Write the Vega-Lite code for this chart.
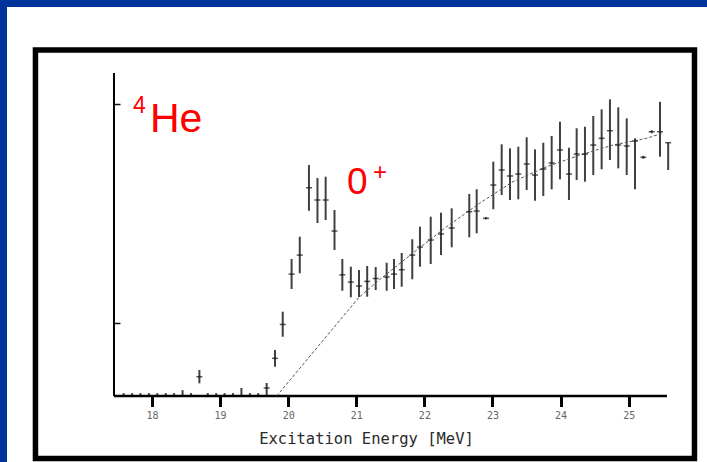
{
  "$schema": "https://vega.github.io/schema/vega-lite/v6.json",
  "width": 700,
  "height": 455,
  "autosize": {"type": "none"},
  "padding": {"left": 7, "top": 7, "right": 0, "bottom": 0},
  "background": "#003399",
  "config": {
    "view": {"fill": "white", "stroke": null},
    "axis": {"grid": false}
  },
  "resolve": {"axis": {"x": "independent", "y": "independent"}},
  "datasets": {
    "points": [
      {"e": 17.584, "lo": 0, "hi": 0.04},
      {"e": 17.708, "lo": 0, "hi": 0.04},
      {"e": 17.831, "lo": 0, "hi": 0.04},
      {"e": 17.955, "lo": 0, "hi": 0.04},
      {"e": 18.078, "lo": 0, "hi": 0.04},
      {"e": 18.202, "lo": 0, "hi": 0.04},
      {"e": 18.325, "lo": 0, "hi": 0.04},
      {"e": 18.449, "lo": 0, "hi": 0.08},
      {"e": 18.572, "lo": 0, "hi": 0.04},
      {"e": 18.696, "c": 0.264, "lo": 0.174, "hi": 0.356},
      {"e": 18.819, "lo": 0, "hi": 0.04},
      {"e": 18.943, "lo": 0, "hi": 0.04},
      {"e": 19.066, "lo": 0, "hi": 0.04},
      {"e": 19.19, "lo": 0, "hi": 0.04},
      {"e": 19.313, "lo": 0, "hi": 0.11},
      {"e": 19.437, "lo": 0, "hi": 0.04},
      {"e": 19.56, "lo": 0, "hi": 0.04},
      {"e": 19.684, "c": 0.11, "lo": 0.014, "hi": 0.178},
      {"e": 19.806, "c": 0.516, "lo": 0.401, "hi": 0.63},
      {"e": 19.92, "c": 0.98, "lo": 0.812, "hi": 1.155},
      {"e": 20.05, "c": 1.67, "lo": 1.466, "hi": 1.877},
      {"e": 20.17, "c": 1.93, "lo": 1.681, "hi": 2.182},
      {"e": 20.305, "c": 2.853, "lo": 2.538, "hi": 3.164},
      {"e": 20.43, "c": 2.685, "lo": 2.37, "hi": 2.986},
      {"e": 20.55, "c": 2.685, "lo": 2.411, "hi": 3.004},
      {"e": 20.68, "c": 2.26, "lo": 2.0, "hi": 2.548},
      {"e": 20.795, "c": 1.66, "lo": 1.442, "hi": 1.877},
      {"e": 20.92, "c": 1.56, "lo": 1.352, "hi": 1.771},
      {"e": 21.04, "c": 1.507, "lo": 1.356, "hi": 1.726},
      {"e": 21.16, "c": 1.57, "lo": 1.36, "hi": 1.781},
      {"e": 21.285, "c": 1.61, "lo": 1.452, "hi": 1.767},
      {"e": 21.446, "c": 1.63, "lo": 1.442, "hi": 1.826},
      {"e": 21.554, "c": 1.67, "lo": 1.466, "hi": 1.877},
      {"e": 21.667, "c": 1.73, "lo": 1.497, "hi": 1.959},
      {"e": 21.822, "c": 1.93, "lo": 1.599, "hi": 2.147},
      {"e": 21.935, "c": 2.04, "lo": 1.771, "hi": 2.319},
      {"e": 22.093, "c": 2.137, "lo": 1.808, "hi": 2.456},
      {"e": 22.244, "c": 2.219, "lo": 1.932, "hi": 2.511},
      {"e": 22.401, "c": 2.301, "lo": 2.037, "hi": 2.571},
      {"e": 22.659, "c": 2.525, "lo": 2.174, "hi": 2.767},
      {"e": 22.768, "c": 2.534, "lo": 2.229, "hi": 2.832},
      {"e": 22.905, "c": 2.434, "lo": 2.42, "hi": 2.45},
      {"e": 23.012, "c": 2.89, "lo": 2.558, "hi": 3.21},
      {"e": 23.135, "c": 3.096, "lo": 2.753, "hi": 3.448},
      {"e": 23.257, "c": 3.014, "lo": 2.685, "hi": 3.393},
      {"e": 23.379, "c": 3.041, "lo": 2.695, "hi": 3.415},
      {"e": 23.502, "c": 3.178, "lo": 2.822, "hi": 3.544},
      {"e": 23.624, "c": 3.027, "lo": 2.675, "hi": 3.379},
      {"e": 23.746, "c": 3.11, "lo": 2.74, "hi": 3.47},
      {"e": 23.869, "c": 3.192, "lo": 2.832, "hi": 3.562},
      {"e": 23.991, "c": 3.37, "lo": 2.968, "hi": 3.758},
      {"e": 24.123, "c": 3.04, "lo": 2.685, "hi": 3.401},
      {"e": 24.236, "c": 3.315, "lo": 2.959, "hi": 3.667},
      {"e": 24.358, "c": 3.315, "lo": 2.936, "hi": 3.689},
      {"e": 24.48, "c": 3.438, "lo": 3.027, "hi": 3.836},
      {"e": 24.603, "c": 3.53, "lo": 3.105, "hi": 3.927},
      {"e": 24.725, "c": 3.634, "lo": 3.233, "hi": 4.064},
      {"e": 24.847, "c": 3.438, "lo": 3.119, "hi": 3.955},
      {"e": 24.971, "c": 3.425, "lo": 3.027, "hi": 3.804},
      {"e": 25.093, "c": 3.493, "lo": 2.832, "hi": 3.53},
      {"e": 25.215, "c": 3.27, "lo": 3.25, "hi": 3.29},
      {"e": 25.338, "c": 3.62, "lo": 3.6, "hi": 3.64},
      {"e": 25.46, "c": 3.62, "lo": 3.278, "hi": 4.03},
      {"e": 25.58, "c": 3.47, "lo": 3.096, "hi": 3.47}
    ],
    "fit": [
      {"e": 19.831, "v": 0},
      {"e": 21.04, "v": 1.352},
      {"e": 21.348, "v": 1.599},
      {"e": 21.833, "v": 1.959},
      {"e": 22.327, "v": 2.319},
      {"e": 22.816, "v": 2.644},
      {"e": 23.301, "v": 2.936},
      {"e": 23.796, "v": 3.141},
      {"e": 24.285, "v": 3.301},
      {"e": 24.769, "v": 3.438},
      {"e": 25.264, "v": 3.53},
      {"e": 25.504, "v": 3.603}
    ]
  },
  "layer": [
    {
      "description": "Error bars, carrying the scales and axes",
      "data": {"name": "points"},
      "mark": {"type": "rule", "color": "#1e1e1e", "strokeWidth": 2, "opacity": 0.85},
      "encoding": {
        "x": {
          "field": "e",
          "type": "quantitative",
          "scale": {"domain": [15.871, 26.15], "nice": false, "zero": false},
          "axis": {
            "orient": "bottom",
            "offset": -65.5,
            "values": [18, 19, 20, 21, 22, 23, 24, 25],
            "format": "d",
            "domain": false,
            "ticks": true,
            "tickSize": 10,
            "tickWidth": 3,
            "tickColor": "#000",
            "labelFont": "DejaVu Sans Mono",
            "labelFontSize": 10,
            "labelColor": "#666",
            "labelPadding": 4,
            "title": "Excitation Energy [MeV]",
            "titleFont": "DejaVu Sans Mono",
            "titleFontSize": 15.5,
            "titleFontWeight": "normal",
            "titleColor": "#2a2a2a",
            "titleX": 359,
            "titleY": 46.5,
            "titleAlign": "center",
            "titleBaseline": "alphabetic"
          }
        },
        "y": {
          "field": "lo",
          "type": "quantitative",
          "scale": {"domain": [-0.904, 5.329], "nice": false, "zero": false},
          "axis": {
            "orient": "right",
            "offset": -593,
            "values": [1, 4],
            "labels": false,
            "domain": false,
            "tickSize": 6,
            "tickWidth": 1.5,
            "tickColor": "#111",
            "title": null
          }
        },
        "y2": {"field": "hi"}
      }
    },
    {
      "description": "Black border round the figure",
      "data": {"values": [{}]},
      "mark": {"type": "rect", "fill": "transparent", "stroke": "black", "strokeWidth": 5.5},
      "encoding": {
        "x": {"datum": 16.289, "type": "quantitative", "axis": null},
        "x2": {"datum": 25.966},
        "y": {"datum": -0.856, "type": "quantitative", "axis": null},
        "y2": {"datum": 4.74}
      }
    },
    {
      "description": "Energy axis line",
      "data": {"values": [{}]},
      "mark": {"type": "rule", "color": "black", "strokeWidth": 2.5},
      "encoding": {
        "x": {"datum": 17.442, "type": "quantitative", "axis": null},
        "x2": {"datum": 25.562},
        "y": {"datum": 0, "type": "quantitative", "axis": null}
      }
    },
    {
      "description": "Yield axis line",
      "data": {"values": [{}]},
      "mark": {"type": "rule", "color": "black", "strokeWidth": 2},
      "encoding": {
        "x": {"datum": 17.442, "type": "quantitative", "axis": null},
        "y": {"datum": 0, "type": "quantitative", "axis": null},
        "y2": {"datum": 4.425}
      }
    },
    {
      "description": "Smooth background curve",
      "data": {"name": "fit"},
      "mark": {"type": "line", "color": "#555", "strokeWidth": 1, "strokeDash": [3, 2]},
      "encoding": {
        "x": {"field": "e", "type": "quantitative", "axis": null},
        "y": {"field": "v", "type": "quantitative", "axis": null}
      }
    },
    {
      "description": "Central values",
      "data": {"name": "points"},
      "mark": {"type": "tick", "orient": "horizontal", "size": 6, "thickness": 1.5, "color": "#111"},
      "encoding": {
        "x": {"field": "e", "type": "quantitative", "axis": null},
        "y": {"field": "c", "type": "quantitative", "axis": null}
      }
    },
    {
      "data": {"values": [{}]},
      "mark": {"type": "text", "text": "4", "font": "Liberation Sans", "fontSize": 23, "color": "#ff0000", "align": "left", "baseline": "alphabetic"},
      "encoding": {
        "x": {"datum": 17.721, "type": "quantitative", "axis": null},
        "y": {"datum": 3.877, "type": "quantitative", "axis": null}
      }
    },
    {
      "data": {"values": [{}]},
      "mark": {"type": "text", "text": "He", "font": "Liberation Sans", "fontSize": 41, "color": "#ff0000", "align": "left", "baseline": "alphabetic"},
      "encoding": {
        "x": {"datum": 17.971, "type": "quantitative", "axis": null},
        "y": {"datum": 3.621, "type": "quantitative", "axis": null}
      }
    },
    {
      "data": {"values": [{}]},
      "mark": {"type": "text", "text": "0", "font": "Liberation Sans", "fontSize": 37, "color": "#ff0000", "align": "left", "baseline": "alphabetic"},
      "encoding": {
        "x": {"datum": 20.863, "type": "quantitative", "axis": null},
        "y": {"datum": 2.763, "type": "quantitative", "axis": null}
      }
    },
    {
      "data": {"values": [{}]},
      "mark": {"type": "text", "text": "+", "font": "Liberation Sans", "fontSize": 24, "color": "#ff0000", "align": "left", "baseline": "alphabetic"},
      "encoding": {
        "x": {"datum": 21.245, "type": "quantitative", "axis": null},
        "y": {"datum": 2.959, "type": "quantitative", "axis": null}
      }
    }
  ]
}
